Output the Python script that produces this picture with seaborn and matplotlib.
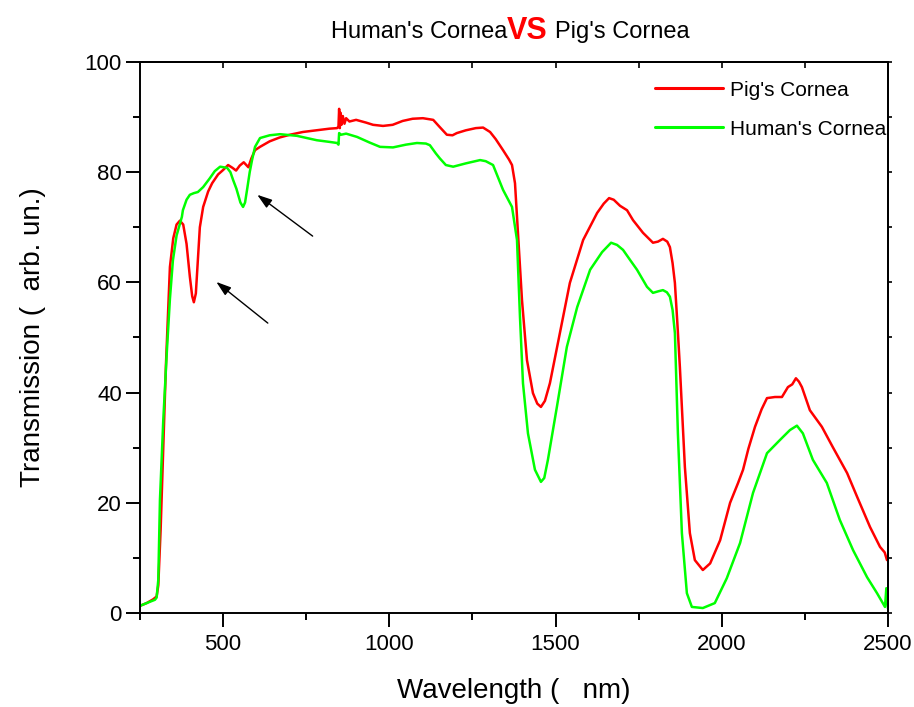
import numpy as np
import pandas as pd
import matplotlib
matplotlib.use("Agg")
import matplotlib.pyplot as plt
import seaborn as sns

# ---- data ----
pig_wl = [250, 270, 290, 300, 305, 312, 320, 328, 340, 350, 360, 370, 380, 390, 400, 407, 412, 418, 424, 430,
          440, 455, 467, 485, 500, 515, 528, 539, 550, 562, 570, 576, 585, 596, 611, 640, 670, 701, 740, 780,
          820, 843, 847, 849, 851, 853, 856, 860, 865, 870, 880, 900, 930, 951, 981, 1010, 1040, 1070, 1101, 1132,
          1150, 1173, 1190, 1203, 1230, 1260, 1282, 1303, 1320, 1342, 1360, 1369, 1378, 1387, 1399, 1414, 1432, 1445, 1456, 1468,
          1483, 1513, 1543, 1583, 1625, 1645, 1661, 1675, 1694, 1715, 1733, 1763, 1793, 1808, 1823, 1836, 1844, 1852, 1859, 1867,
          1874, 1889, 1904, 1919, 1943, 1965, 1995, 2025, 2049, 2064, 2080, 2100, 2120, 2136, 2160, 2181, 2199, 2212, 2223, 2232,
          2241, 2265, 2301, 2334, 2377, 2407, 2446, 2476, 2490, 2497, 2500]
pig_T = [1.3, 1.8, 2.5, 3.0, 5.0, 15.0, 30.0, 45.0, 62.8, 68.0, 70.5, 71.2, 70.5, 67.0, 61.0, 57.5, 56.4, 58.0, 64.0, 70.0,
         73.7, 76.5, 78.0, 79.6, 80.4, 81.3, 80.8, 80.3, 81.2, 81.8, 81.3, 80.9, 82.5, 84.0, 84.6, 85.6, 86.3, 86.8, 87.3, 87.6,
         87.9, 88.0, 88.3, 91.5, 88.0, 90.8, 88.6, 90.2, 88.8, 89.8, 89.2, 89.5, 89.0, 88.6, 88.4, 88.6, 89.3, 89.7, 89.8, 89.5,
         88.3, 86.8, 86.7, 87.1, 87.6, 88.0, 88.1, 87.3, 86.0, 84.0, 82.3, 81.3, 78.0, 69.0, 56.8, 45.9, 39.9, 38.0, 37.4, 38.5,
         41.7, 50.8, 59.9, 67.7, 72.6, 74.3, 75.3, 75.0, 73.9, 73.1, 71.3, 69.0, 67.2, 67.4, 67.9, 67.4, 66.4, 63.5, 59.9, 52.0,
         44.6, 26.5, 14.5, 9.6, 7.8, 9.0, 13.2, 20.0, 23.6, 26.0, 29.8, 33.8, 37.0, 39.0, 39.2, 39.2, 41.0, 41.5, 42.6, 42.0,
         41.0, 36.8, 33.8, 30.1, 25.4, 21.1, 15.6, 12.0, 11.0, 9.6, 10.0]

human_wl = [250, 270, 295, 300, 305, 310, 320, 331, 340, 349, 360, 376, 379, 390, 400, 412, 424, 440, 460, 475,
            491, 512, 522, 530, 540, 552, 560, 566, 572, 580, 587, 596, 611, 640, 671, 722, 782, 820, 843, 847,
            849, 855, 870, 903, 940, 972, 1011, 1050, 1083, 1110, 1122, 1140, 1152, 1170, 1192, 1230, 1273, 1290, 1312, 1342,
            1369, 1384, 1393, 1402, 1417, 1438, 1456, 1466, 1477, 1504, 1534, 1565, 1604, 1640, 1667, 1685, 1703, 1725, 1745, 1775,
            1793, 1810, 1823, 1835, 1844, 1852, 1859, 1868, 1880, 1895, 1910, 1943, 1979, 2015, 2055, 2094, 2136, 2175, 2205, 2226,
            2244, 2274, 2316, 2355, 2395, 2437, 2467, 2491, 2495, 2500]
human_T = [1.3, 1.8, 2.4, 2.8, 6.0, 20.5, 35.0, 47.7, 57.0, 64.0, 68.5, 71.9, 73.1, 75.0, 75.9, 76.2, 76.4, 77.3, 78.9, 80.2,
           81.0, 80.8, 80.0, 78.6, 77.0, 74.5, 73.7, 74.5, 76.8, 80.0, 82.2, 84.6, 86.2, 86.7, 86.9, 86.6, 85.8, 85.5, 85.3, 85.0,
           87.1, 86.8, 87.0, 86.4, 85.4, 84.6, 84.5, 85.0, 85.3, 85.2, 84.9, 83.4, 82.5, 81.3, 81.0, 81.6, 82.2, 82.0, 81.3, 76.8,
           73.7, 67.7, 53.7, 41.7, 32.6, 26.0, 23.8, 24.5, 27.8, 37.4, 48.3, 55.5, 62.3, 65.5, 67.2, 66.8, 65.9, 64.0, 62.3, 59.2,
           58.1, 58.4, 58.6, 58.2, 57.4, 55.0, 50.8, 32.6, 14.5, 3.6, 1.1, 0.9, 1.8, 6.3, 12.7, 21.8, 29.0, 31.4, 33.2, 34.0,
           32.6, 27.8, 23.6, 16.9, 11.4, 6.5, 3.6, 1.1, 4.5, 0.8]

series_names = ["Pig's Cornea", "Human's Cornea"]
series_colors = ["#FF0000", "#00FF00"]
x_ticks = [500, 1000, 1500, 2000, 2500]
y_ticks = [0, 20, 40, 60, 80, 100]

# arrows (tail -> head), in data units
arrow_heads = [(596, 76.2), (473, 60.4)]
arrow_tails = [(776, 68.1), (641, 52.3)]

# ---- build the frame ----
df = pd.concat([
    pd.DataFrame({"Wavelength": pig_wl, "T": pig_T, "Sample": series_names[0]}),
    pd.DataFrame({"Wavelength": human_wl, "T": human_T, "Sample": series_names[1]}),
], ignore_index=True)

sns.set_style("white")
plt.rcParams["font.family"] = ["Liberation Sans", "DejaVu Sans"]
plt.rcParams["text.color"] = "black"
plt.rcParams["axes.labelcolor"] = "black"
plt.rcParams["xtick.color"] = "black"
plt.rcParams["ytick.color"] = "black"

fig = plt.figure(figsize=(9.14, 7.07), dpi=100)
ax = fig.add_axes([140 / 914, 1 - 613 / 707, 748 / 914, 551 / 707])

sns.lineplot(data=df, x="Wavelength", y="T", hue="Sample", hue_order=series_names,
             palette=dict(zip(series_names, series_colors)), linewidth=1.8,
             sort=False, estimator=None, ax=ax)

ax.set_xlim(250, 2500)
ax.set_ylim(0, 100)
ax.set_xticks(x_ticks)
ax.set_yticks(y_ticks)
ax.set_xticks([250, 750, 1250, 1750, 2250], minor=True)
ax.set_yticks([10, 30, 50, 70, 90], minor=True)
ax.tick_params(axis="both", which="both", bottom=True, left=True, top=False, right=False)
ax.tick_params(axis="both", which="major", labelsize=16, length=10, width=1.4, direction="out",
               color="black", labelcolor="black")
ax.tick_params(axis="x", which="major", pad=5)
ax.tick_params(axis="y", which="major", pad=3)
ax.tick_params(axis="both", which="minor", length=5, width=1.4, direction="out", color="black")

# top / right ticks without labels
sec_x = ax.secondary_xaxis("top")
sec_x.set_xticks(x_ticks + [750, 1250, 1750, 2250])
sec_x.tick_params(length=4, width=1.2, direction="in", labeltop=False, top=True, color="black")
sec_y = ax.secondary_yaxis("right")
sec_y.set_yticks(list(range(0, 101, 10)))
sec_y.tick_params(length=3, width=1.2, direction="out", labelright=False, right=True, color="black")
for s in list(sec_x.spines.values()) + list(sec_y.spines.values()):
    s.set_linewidth(1.4)
    s.set_color("black")

for s in ax.spines.values():
    s.set_visible(True)
    s.set_color("black")
    s.set_linewidth(1.4)

ax.set_xlabel("Wavelength (   nm)", fontsize=20, labelpad=17, color="black")
ax.set_ylabel("Transmission (  arb. un.)", fontsize=20, labelpad=28, color="black")

for (hx, hy), (tx, ty) in zip(arrow_heads, arrow_tails):
    ax.annotate("", xy=(hx, hy), xytext=(tx, ty),
                arrowprops=dict(arrowstyle="-|>,head_length=0.9,head_width=0.3", color="black", lw=1.0))

leg = ax.legend(loc="upper left", bbox_to_anchor=(0.688, 0.966), frameon=False, fontsize=15,
                handlelength=3.3, handletextpad=0.3, labelspacing=0.95, borderaxespad=0, borderpad=0)
for line in leg.get_lines():
    line.set_linewidth(2.2)
for t in leg.get_texts():
    t.set_color("black")

# title in three pieces
fig.text(507 / 914, 1 - 32 / 707, "Human's Cornea", ha="right", va="center", fontsize=17, color="black")
fig.text(507 / 914, 1 - 31 / 707, "VS", ha="left", va="center", fontsize=22, color="#FF0000", fontweight="bold")
fig.text(555 / 914, 1 - 32 / 707, "Pig's Cornea", ha="left", va="center", fontsize=17, color="black")

fig.savefig("out.png", dpi=100)
